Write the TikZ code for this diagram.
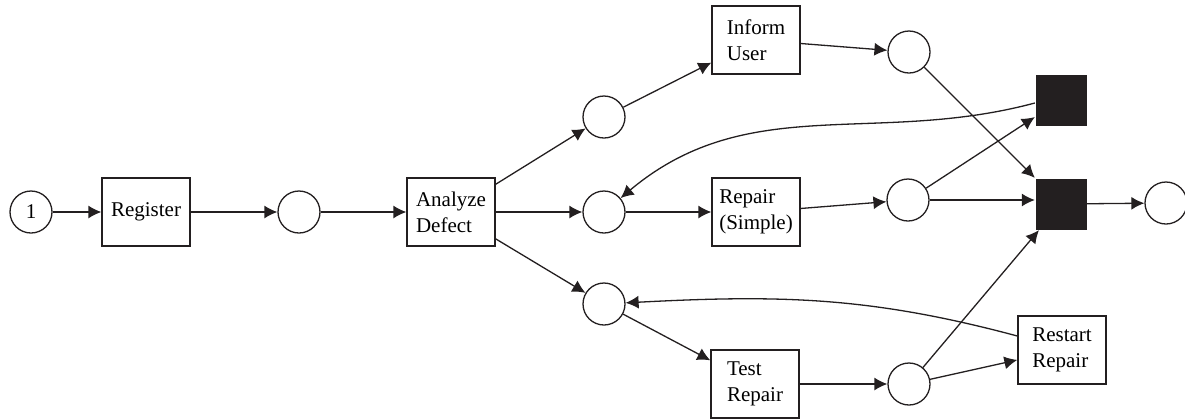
\documentclass[tikz,border=0pt]{standalone}
\usepackage{fontspec}
\setmainfont{Liberation Serif}
\usetikzlibrary{arrows.meta}

\definecolor{ink}{HTML}{231F20}

\begin{document}
\begin{tikzpicture}[x=0.5pt,y=-0.5pt,line width=0.65pt,draw=ink,
  >={Latex[length=6.5pt,width=6.5pt]},
  place/.style={draw=ink,circle,minimum size=21pt,inner sep=0pt,font=\fontsize{10.5}{13}\selectfont},
  trans/.style={draw=ink,rectangle,minimum width=44pt,minimum height=34pt,inner sep=2pt,align=left,font=\fontsize{10.5}{13}\selectfont},
  silent/.style={fill=ink,rectangle,minimum size=25.5pt,inner sep=0pt}]

\useasboundingbox (0,0) rectangle (1185,419);

% places
\node[place] (start) at (31,212) {1} ;
\node[place] (p1) at (299,212) {} ;
\node[place] (p2) at (604,117) {} ;
\node[place] (p3) at (604,212) {} ;
\node[place] (p4) at (604,304) {} ;
\node[place] (p5) at (909,52) {} ;
\node[place] (p6) at (908,200) {} ;
\node[place] (p7) at (909,384) {} ;
\node[place] (done) at (1166,203) {} ;

% transitions
\node[trans] (register) at (146,212) {Register} ;
\node[trans] (analyze) at (451,212) {Analyze\\Defect} ;
\node[trans] (inform) at (756,40) {Inform\\User} ;
\node[trans] (simple) at (756,212) {Repair\\(Simple)} ;
\node[trans] (test) at (755,384) {Test\\Repair} ;
\node[trans] (restart) at (1062,350) {Restart\\Repair} ;
\node[silent] (ttop) at (1061,100) {} ;
\node[silent] (tmid) at (1061,204) {} ;

% arcs
\draw[->] (start) -- (register) ;
\draw[->] (register) -- (p1) ;
\draw[->] (p1) -- (analyze) ;
\draw[->] (analyze) -- (p2) ;
\draw[->] (analyze) -- (p3) ;
\draw[->] (analyze) -- (p4) ;
\draw[->] (p2) -- (inform) ;
\draw[->] (inform) -- (p5) ;
\draw[->] (p5) -- (tmid.north west) ;
\draw[->] (p3) -- (simple) ;
\draw[->] (simple) -- (p6) ;
\draw[->] (p6) -- (ttop) ;
\draw[->] (p6) -- (p6 -| tmid.west) ;
\draw[->] (tmid) -- (done) ;
\draw[->] (p4) -- (test) ;
\draw[->] (test) -- (p7) ;
\draw[->] (p7) -- (tmid) ;
\draw[->] (p7) -- (restart) ;
\draw[->] ([yshift=-1.5pt]ttop.west) to[out=195,in=40] (p3) ;
\draw[->] ([yshift=7pt]restart.west) to[out=165,in=3] (p4) ;

\end{tikzpicture}
\end{document}
